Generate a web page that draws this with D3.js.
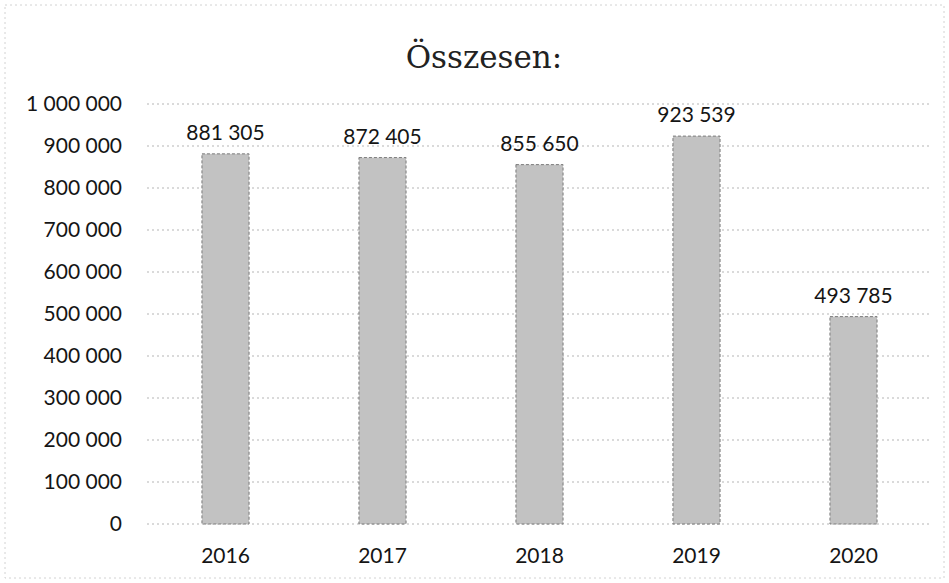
<!DOCTYPE html>
<html>
<head>
<meta charset="utf-8">
<script src="https://cdn.jsdelivr.net/npm/d3@7"></script>
<style>
  body { margin: 0; background: #fff; }
  svg { display: block; }
</style>
</head>
<body>
<div id="chart"></div>
<script>
// data
const years = ["2016", "2017", "2018", "2019", "2020"];
const totals = [881305, 872405, 855650, 923539, 493785];
const yTicks = [0, 100000, 200000, 300000, 400000, 500000, 600000, 700000, 800000, 900000, 1000000];
const title = "Összesen:";

const W = 949, H = 583;
const margin = {top: 104, right: 17, bottom: 59, left: 147},
      width = W - margin.left - margin.right,
      height = H - margin.top - margin.bottom;

const fmt = v => d3.format(",")(v).replace(/,/g, " ");
const labelFont = "Lato, 'Open Sans', sans-serif";

const svg = d3.select("#chart")
    .append("svg")
    .attr("width", W)
    .attr("height", H);

// faint dotted frame like the scanned chart area
svg.append("rect")
    .attr("x", 5).attr("y", 5)
    .attr("width", W - 10).attr("height", H - 10)
    .attr("fill", "none")
    .attr("stroke", "#d2d2d2")
    .attr("stroke-dasharray", "2,3");

// title
svg.append("text")
    .attr("x", 484)
    .attr("y", 68)
    .attr("text-anchor", "middle")
    .style("font-family", "'DejaVu Serif', serif")
    .style("font-size", "31px")
    .style("fill", "#222")
    .text(title);

const g = svg.append("g")
    .attr("transform", `translate(${margin.left}, ${margin.top})`);

const x = d3.scaleBand()
    .domain(years)
    .range([0, width])
    .paddingInner(0.7)
    .paddingOuter(0.35);

const y = d3.scaleLinear()
    .domain([0, 1000000])
    .range([height, 0]);

// gridlines
g.append("g")
    .selectAll("line")
    .data(yTicks)
    .join("line")
    .attr("x1", 0)
    .attr("x2", width)
    .attr("y1", d => y(d))
    .attr("y2", d => y(d))
    .attr("stroke", "#b5b5b5")
    .attr("stroke-width", 1)
    .attr("stroke-dasharray", "2,3");

// y axis
const yAxis = g.append("g")
    .attr("transform", "translate(-22,0)")
    .call(d3.axisLeft(y).tickValues(yTicks).tickFormat(fmt).tickSize(0));
yAxis.select(".domain").remove();
yAxis.selectAll("text")
    .style("font-family", labelFont)
    .style("font-size", "21px")
    .style("fill", "#151515");

// x axis
const xAxis = g.append("g")
    .attr("transform", `translate(0, ${height})`)
    .call(d3.axisBottom(x).tickSize(0).tickPadding(24));
xAxis.select(".domain").remove();
xAxis.selectAll("text")
    .style("font-family", labelFont)
    .style("font-size", "21px")
    .style("fill", "#151515");

const rows = years.map((yr, i) => ({year: yr, value: totals[i]}));

// bars
g.append("g")
    .selectAll("rect")
    .data(rows)
    .join("rect")
    .attr("x", d => x(d.year))
    .attr("y", d => y(d.value))
    .attr("width", x.bandwidth())
    .attr("height", d => height - y(d.value))
    .attr("fill", "#c2c2c2")
    .attr("stroke", "#7a7a7a")
    .attr("stroke-width", 1)
    .attr("stroke-dasharray", "3,2");

// value labels
g.append("g")
    .selectAll("text")
    .data(rows)
    .join("text")
    .attr("x", d => x(d.year) + x.bandwidth() / 2)
    .attr("y", d => y(d.value) - 14)
    .attr("text-anchor", "middle")
    .style("font-family", labelFont)
    .style("font-size", "21px")
    .style("fill", "#151515")
    .text(d => fmt(d.value));
</script>
</body>
</html>
